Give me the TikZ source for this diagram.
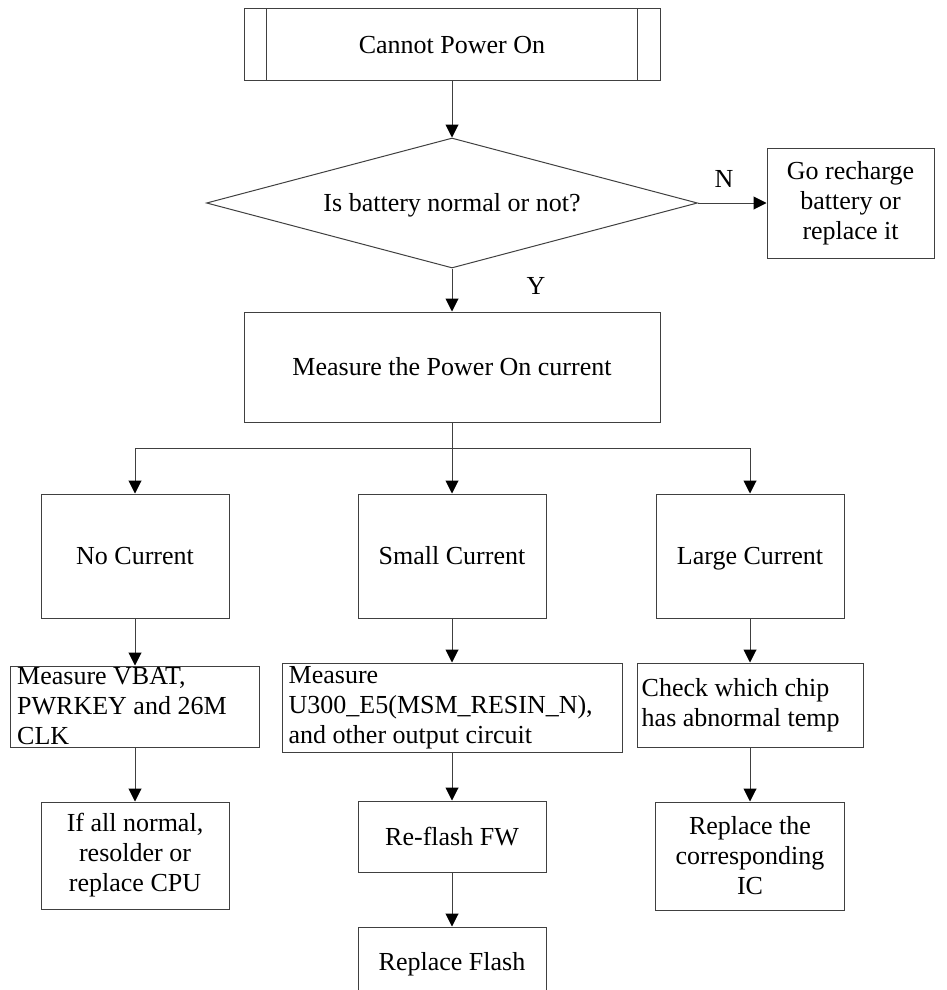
\documentclass[tikz,border=0pt]{standalone}
\usepackage{fontspec}
\setmainfont{Liberation Serif}
\usetikzlibrary{shapes.geometric,arrows.meta}
\begin{document}
\begin{tikzpicture}[x=1pt,y=-1pt,
  every node/.style={font=\fontsize{26}{30}\selectfont, text=black},
  box/.style={draw=black!75, line width=1pt, rectangle, inner sep=0pt},
  oneline/.style={text height=19pt, text depth=2pt},
  link/.style={draw=black!75, line width=1pt},
  arr/.style={link, -{Triangle[length=13pt,width=13pt,color=black]}}]
\useasboundingbox (0,0) rectangle (947,990);
\clip (0,0) rectangle (947,990);

% start block with double side bars
\node[box, oneline, minimum width=416, minimum height=71] (start) at (452,44.5) {Cannot Power On};
\draw[link] ([xshift=23]start.north west) -- ([xshift=23]start.south west);
\draw[link] ([xshift=-23]start.north east) -- ([xshift=-23]start.south east);

% battery decision
\node[box, oneline, diamond, aspect=3.78, minimum width=491, minimum height=130] (batt) at (452,203) {Is battery normal or not?};
\node[box, minimum width=167, minimum height=110, align=center] (charge) at (850.5,203) {Go recharge\\battery or\\replace it};
\node (nlab) at (724,179) {N};
\node (ylab) at (536,286) {Y};

% current measurement
\node[box, oneline, minimum width=416, minimum height=110] (meas) at (452,367) {Measure the Power On current};
\coordinate (split) at (452,448);

\node[box, oneline, minimum width=188, minimum height=124] (nocur) at (135,556) {No Current};
\node[box, oneline, minimum width=188, minimum height=124] (smallc) at (452,556) {Small Current};
\node[box, oneline, minimum width=188, minimum height=124] (largec) at (750,556) {Large Current};

% second level checks
\node[box, minimum width=249, minimum height=81] (vbat) at (135,706.5) {};
\node[anchor=west, align=left, inner sep=0pt] (vbatT) at ([xshift=7]vbat.west) {Measure VBAT,\\PWRKEY and 26M\\CLK};
\node[box, minimum width=340, minimum height=89] (u300) at (452,707.5) {};
\node[anchor=west, align=left, inner sep=0pt] (u300T) at ([xshift=7]u300.west) {Measure\\U300\_E5(MSM\_RESIN\_N),\\and other output circuit};
\node[box, minimum width=226, minimum height=84] (check) at (750,705) {};
\node[anchor=west, align=left, inner sep=0pt] (checkT) at ([xshift=5]check.west) {Check which chip\\has abnormal temp};

% final actions
\node[box, minimum width=188, minimum height=107, align=center] (cpu) at (135,855.5) {If all normal,\\resolder or\\replace CPU};
\node[box, oneline, minimum width=188, minimum height=71] (reflash) at (452,836.5) {Re-flash FW};
\node[box, oneline, minimum width=188, minimum height=70] (flash) at (452,962) {Replace Flash};
\node[box, minimum width=189, minimum height=108, align=center] (ic) at (750,856) {Replace the\\corresponding\\IC};

% connectors
\draw[arr] (start.south) -- (batt.north);
\draw[arr] (batt.east) -- (charge.west);
\draw[arr] (batt.south) -- (meas.north);
\draw[link] (meas.south) -- (split);
\draw[arr] (split) -| (nocur.north);
\draw[arr] (split) -- (smallc.north);
\draw[arr] (split) -| (largec.north);
\draw[arr] (nocur.south) -- (vbat.north);
\draw[arr] (smallc.south) -- (u300.north);
\draw[arr] (largec.south) -- (check.north);
\draw[arr] (vbat.south) -- (cpu.north);
\draw[arr] (u300.south) -- (reflash.north);
\draw[arr] (reflash.south) -- (flash.north);
\draw[arr] (check.south) -- (ic.north);
\end{tikzpicture}
\end{document}
